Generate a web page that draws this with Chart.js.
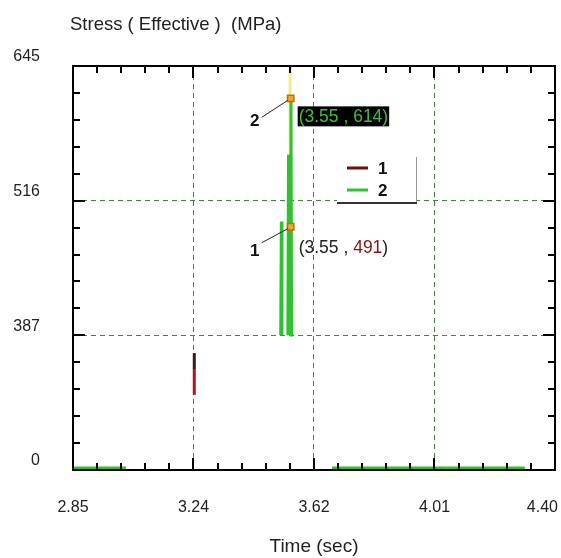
<!DOCTYPE html>
<html><head><meta charset="utf-8">
<script src="https://cdn.jsdelivr.net/npm/chart.js@4.4.0/dist/chart.umd.min.js"></script>
<style>html,body{margin:0;padding:0;background:#fff}#wrap{width:561px;height:558px;position:relative}canvas{display:block}</style>
</head><body><div id="wrap"><canvas id="c" width="561" height="558" style="width:561px;height:558px"></canvas></div>
<script>
// ---- data ----
const chartTitle = 'Stress ( Effective )  (MPa)';
const xAxisTitle = 'Time (sec)';
const xTickValues = [2.85, 3.2375, 3.625, 4.0125, 4.40];
const xTickLabels = ['2.85', '3.24', '3.62', '4.01', '4.40'];
const yTickValues = [258, 387, 516, 645];
const yTickLabels = ['0', '387', '516', '645'];
const seriesNames = ['1', '2'];
const series1Time = [3.24, 3.24, 3.24];
const series1Stress = [330, 354, 370];
const series2Time = [2.85, 3.02, 3.30, 3.518, 3.520, 3.522, 3.530, 3.541, 3.543, 3.545, 3.547, 3.549, 3.551, 3.553, 3.60, 3.683, 4.303];
const series2Stress = [260, 260, null, 387, 496, 387, null, 387, 560, 387, null, 387, 614, 387, null, 260, 260];
const cursorTime = [3.548, 3.548];
const cursorStress = [387, 645];
const markerTime = [3.55, 3.55];
const markerStress = [614, 491];
const markerTags = ['2', '1'];

const FONT = '"Liberation Sans", Arial, sans-serif';
const pts = (xs, ys) => xs.map((x, i) => ({x: x, y: ys[i]}));

const decor = {
  id: 'decor',
  afterDraw(chart) {
    const {ctx, chartArea: a, scales: {x, y}} = chart;
    ctx.save();
    // chart title
    ctx.font = '18.5px ' + FONT;
    ctx.fillStyle = '#222';
    ctx.textBaseline = 'middle';
    ctx.textAlign = 'left';
    ctx.fillText(chartTitle, 70, 25);
    // frame
    ctx.strokeStyle = '#000';
    ctx.lineWidth = 2;
    ctx.strokeRect(a.left, a.top, a.right - a.left, a.bottom - a.top);
    // inward ticks
    const xStep = (xTickValues[1] - xTickValues[0]) / 5;
    const nx = Math.round((x.max - x.min) / xStep);
    ctx.beginPath();
    for (let i = 0; i <= nx; i++) {
      const px = Math.round(x.getPixelForValue(x.min + i * xStep));
      const len = i % 5 === 0 ? 12 : 7;
      ctx.moveTo(px, a.bottom); ctx.lineTo(px, a.bottom - len);
      ctx.moveTo(px, a.top); ctx.lineTo(px, a.top + len);
    }
    const yStep = (yTickValues[1] - yTickValues[0]) / 5;
    const ny = Math.round((y.max - y.min) / yStep);
    for (let i = 0; i <= ny; i++) {
      const py = Math.round(y.getPixelForValue(y.min + i * yStep));
      const len = i % 5 === 0 ? 12 : 7;
      ctx.moveTo(a.left, py); ctx.lineTo(a.left + len, py);
      ctx.moveTo(a.right, py); ctx.lineTo(a.right - len, py);
    }
    ctx.stroke();

    // legend (inside plot)
    const lx = 337, ly = 157, lw = 79, lh = 46;
    ctx.fillStyle = '#fff';
    ctx.fillRect(lx, ly, lw, lh);
    ctx.lineWidth = 1;
    ctx.strokeStyle = '#999';
    ctx.beginPath(); ctx.moveTo(lx + lw + 0.5, ly); ctx.lineTo(lx + lw + 0.5, ly + lh); ctx.stroke();
    ctx.lineWidth = 2;
    ctx.strokeStyle = '#333';
    ctx.beginPath(); ctx.moveTo(lx, ly + lh); ctx.lineTo(lx + lw + 1, ly + lh); ctx.stroke();
    [0, 1].forEach((di, k) => {
      const ds = chart.data.datasets[di];
      const yy = ly + 11 + k * 22;
      ctx.strokeStyle = ds.legendColor;
      ctx.lineWidth = 3;
      ctx.beginPath(); ctx.moveTo(lx + 10, yy); ctx.lineTo(lx + 31, yy); ctx.stroke();
      ctx.fillStyle = '#111';
      ctx.font = 'bold 17px ' + FONT;
      ctx.textAlign = 'left';
      ctx.fillText(ds.label, lx + 41, yy + 1);
    });

    // cursor read-outs
    markerTime.forEach((t, i) => {
      const px = x.getPixelForValue(t), py = y.getPixelForValue(markerStress[i]);
      ctx.strokeStyle = '#222';
      ctx.lineWidth = 1;
      ctx.beginPath(); ctx.moveTo(px - 29, py + (i === 0 ? 19 : 16)); ctx.lineTo(px - 3, py + 2); ctx.stroke();
      ctx.fillStyle = '#111';
      ctx.font = 'bold 17px ' + FONT;
      ctx.textAlign = 'center';
      ctx.fillText(markerTags[i], px - 36, py + (i === 0 ? 23 : 25));
      ctx.font = '17.5px ' + FONT;
      ctx.textAlign = 'left';
      const head = '(' + t.toFixed(2) + ' , ';
      const val = String(markerStress[i]);
      const full = head + val + ')';
      if (i === 0) {
        const w = ctx.measureText(full).width;
        ctx.fillStyle = '#000';
        ctx.fillRect(px + 7, py + 8, w + 2, 20);
        ctx.fillStyle = '#3cc03c';
        ctx.fillText(full, px + 8, py + 18.5);
      } else {
        const tx = px + 8, ty = py + 21;
        ctx.fillStyle = '#222';
        ctx.fillText(head, tx, ty);
        const w1 = ctx.measureText(head).width;
        ctx.fillStyle = '#8a1010';
        ctx.fillText(val, tx + w1, ty);
        const w2 = ctx.measureText(val).width;
        ctx.fillStyle = '#222';
        ctx.fillText(')', tx + w1 + w2, ty);
      }
    });
    ctx.restore();
  }
};

const gridColor = (ctx) => {
  const i = ctx.index, n = ctx.scale.ticks.length;
  return (i === 0 || i === n - 1) ? 'rgba(0,0,0,0)' : '#3a8a3a';
};

// keep the last x label inside the canvas (right aligned at the frame edge)
const fitXLabels = (s) => {
  s.height = 88; s.paddingLeft = 0; s.paddingRight = 0;
  if (!s._labelWrap) {
    const orig = s.getLabelItems.bind(s);
    s.getLabelItems = function (ca) {
      const items = orig(ca);
      const last = items[items.length - 1];
      if (last && !last._moved) {
        last.options.textAlign = 'right';
        last.options.translation = [s.right + 3, last.options.translation[1]];
        last._moved = true;
      }
      return items;
    };
    s._labelWrap = true;
  }
};

new Chart(document.getElementById('c'), {
  type: 'line',
  data: {
    datasets: [
      {
        label: seriesNames[0], data: pts(series1Time, series1Stress),
        legendColor: '#6a0f10', borderWidth: 3, pointRadius: 0, order: 1,
        borderColor: '#b3141a',
        segment: { borderColor: c => c.p0DataIndex === 1 ? '#3a1a1a' : '#b3141a' }
      },
      {
        label: seriesNames[1], data: pts(series2Time, series2Stress),
        legendColor: '#2ec42e', borderColor: '#2cc42c', borderWidth: 3, pointRadius: 0,
        spanGaps: false, order: 2
      },
      {
        label: 'cursor', data: pts(cursorTime, cursorStress),
        borderColor: '#f2ee86', borderWidth: 3, pointRadius: 0, order: 3
      },
      {
        label: 'markers', data: pts(markerTime, markerStress), showLine: false,
        pointStyle: 'rect', pointRadius: 4.5, pointBackgroundColor: '#f0a530',
        pointBorderColor: '#c86a00', pointBorderWidth: 1.5, order: 0
      }
    ]
  },
  options: {
    responsive: false,
    animation: false,
    events: [],
    layout: { padding: { top: 66, right: 6, left: 0, bottom: 0 } },
    plugins: { legend: { display: false }, tooltip: { enabled: false }, title: { display: false } },
    scales: {
      x: {
        type: 'linear', min: xTickValues[0], max: xTickValues[xTickValues.length - 1],
        afterBuildTicks: s => { s.ticks = xTickValues.map(v => ({value: v})); },
        afterFit: fitXLabels,
        ticks: {
          autoSkip: false, maxRotation: 0, padding: 28, color: '#222',
          font: { family: FONT, size: 16 },
          callback: (v, i) => xTickLabels[i]
        },
        grid: { color: gridColor, lineWidth: 1, drawTicks: false },
        border: { display: false, dash: [5, 4] },
        title: { display: true, text: xAxisTitle, color: '#222', font: { family: FONT, size: 19 }, padding: { top: 0, bottom: 0 } }
      },
      y: {
        type: 'linear', min: yTickValues[0], max: yTickValues[yTickValues.length - 1],
        afterBuildTicks: s => { s.ticks = yTickValues.map(v => ({value: v})); },
        afterFit: s => { s.width = 73; s.paddingTop = 0; s.paddingBottom = 0; },
        ticks: {
          autoSkip: false, padding: 33, labelOffset: -9, color: '#222',
          font: { family: FONT, size: 16 },
          callback: (v, i) => yTickLabels[i]
        },
        grid: { color: gridColor, lineWidth: 1, drawTicks: false },
        border: { display: false, dash: [5, 4] }
      }
    }
  },
  plugins: [decor]
});
</script>
</body></html>
